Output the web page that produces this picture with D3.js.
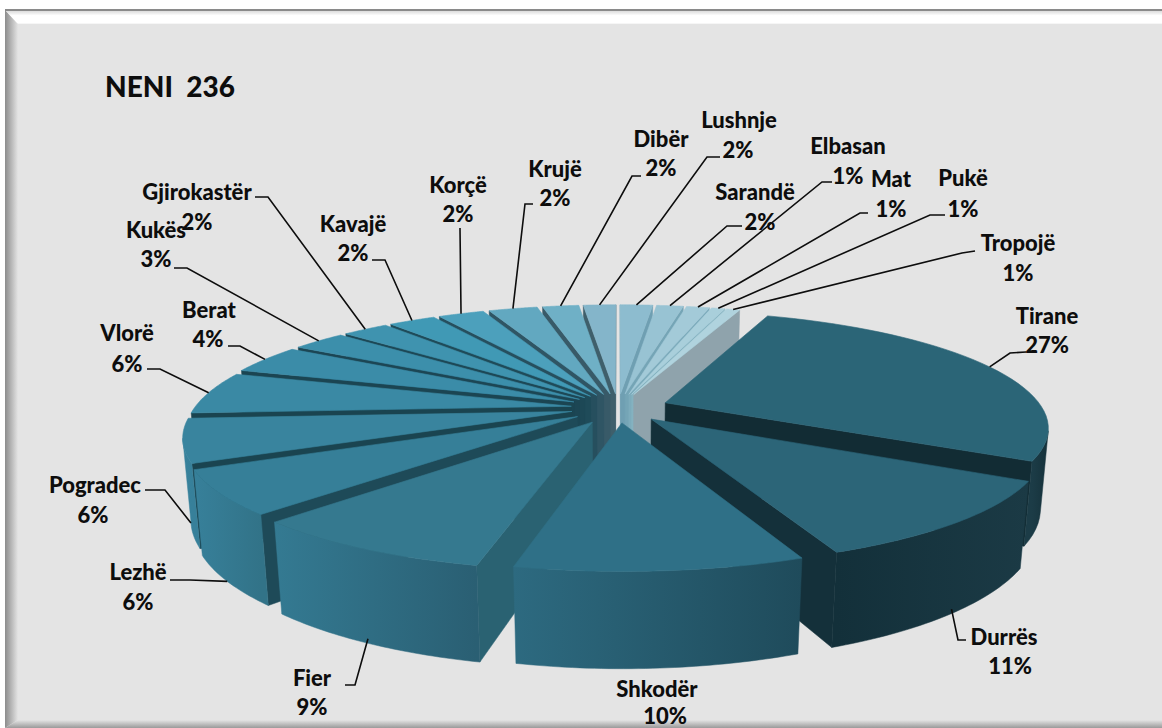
<!DOCTYPE html>
<html><head><meta charset="utf-8">
<style>html,body{margin:0;padding:0;background:#fff}svg{display:block}text{font-family:Lato,"Open Sans",sans-serif;font-weight:900;fill:#0d0d0d}</style>
<script src="https://cdn.jsdelivr.net/npm/d3@7"></script>
</head><body><svg id="c" width="1162" height="728"></svg>
<script>
const title = "NENI  236";
const categories = ["Sarandë","Elbasan","Mat","Pukë","Tropojë","Tirane","Durrës","Shkodër","Fier","Lezhë","Pogradec","Vlorë","Berat","Kukës","Gjirokastër","Kavajë","Korçë","Krujë","Dibër","Lushnje"];
const values = [1.7,1.4,1.2,0.7,0.7,27.5,10.95,9.8,8.55,6.0,6.0,5.9,4.0,2.8,2.4,2.45,2.4,2.55,1.9,1.7];
const percentLabels = ["2%","1%","1%","1%","1%","27%","11%","10%","9%","6%","6%","6%","4%","3%","2%","2%","2%","2%","2%","2%"];
const topColors = ["#8dbccf","#98c3d3","#a3cad8","#a9cfdb","#b0d3de","#2b6577","#2c6578","#2f7087","#35798f","#367f98","#39849e","#3a89a4","#3b8ca8","#3c8fab","#3f93af","#4099b5","#4ca0bc","#62a8c0","#6fb0c6","#84b5ca"];
const wallColors = ["#6f9fb2","#75a5b6","#7dacbc","#84b2c0","#8fa3ac","#122c34","#14303a","#1f4b5b","#2a6272","#1e4a58","#1a4450","#1a4450","#1b4552","#1c4654","#1d4856","#1f4b59","#264f5e","#2f5564","#385a68","#3f5f6b"];
const rimLeft = ["#6f9fb2","#75a5b6","#7dacbc","#84b2c0","#8fa3ac","#1c3c47","#13303a","#2d6a80","#347a92","#37809a","#38829c","#3a88a2","#3b8ca8","#3c8fab","#3f93af","#4099b5","#4ca0bc","#62a8c0","#6fb0c6","#84b5ca"];
const rimRight = ["#6f9fb2","#75a5b6","#7dacbc","#84b2c0","#8fa3ac","#15313a","#1b3a45","#1f4b5b","#2a5f73","#327388","#37809a","#3a88a2","#3b8ca8","#3c8fab","#3f93af","#4099b5","#4ca0bc","#62a8c0","#6fb0c6","#84b5ca"];

// Layout (screen placement of labels and leader elbows, not chart data)
const labelPos = [[755,192,760,222],[848,146,848,176],[891,179,891,209],[963,178,963,209],[1018,243,1018,273],[1047,316,1047,345],[1004,637,1010,666],[657,689,665,716],[312,678,312,707],[138,572,138,602],[95,485,93,515],[127,333,127,364],[209,310,208,339],[156,230,156,259],[197,192,197,222],[353,224,353,253],[458,185,458,214],[555,169,555,198],[661,139,661,168],[739,120,738,150]];
const leaderStub = [[[742,226],[727,226]],[[832,182],[822,182]],[[868,213],[860,213]],[[945,215],[930,215]],[[975,251],[962,253]],[[1026,352],[1010,353]],[[966,640],[958,640]],null,[[345,685],[355,685]],[[170,580],[190,580]],[[145,490],[165,490]],[[147,369],[160,369]],[[228,346],[240,346]],[[174,268],[187,268]],[[255,197],[268,197]],[[372,260],[385,260]],[[460,228],[460,229]],[[533,204],[525,204]],[[641,176],[632,176]],[[720,157],[707,157]]];
const leaderDepth = [0,0,0,0,0,0,0.95,0,0.95,1,1,0,0,0,0,0,0,0,0,0];
const explode = [.13,.13,.13,.13,.13,.135,.13,.13,.14,.13,.125,.125,.13,.13,.13,.13,.13,.13,.13,.13];

const cx=618, cy=408, R=377, kR=112, H=80, P=0.2, Q=0.018;
function proj(u,v,z){const w=1-P*v+Q*z;return [cx+R*u/w, cy+(kR*v+H*z)/w];}

const svg=d3.select("#c"), defs=svg.append("defs");
// Frame
const W=1162,Hh=728;
function grad(id,x1,y1,x2,y2,stops){const g=defs.append("linearGradient").attr("id",id).attr("gradientUnits","userSpaceOnUse").attr("x1",x1).attr("y1",y1).attr("x2",x2).attr("y2",y2);stops.forEach(s=>g.append("stop").attr("offset",s[0]).attr("stop-color",s[1]));}
grad("bl",5,0,18,0,[[0,"#8c8c8c"],[1,"#e4e4e4"]]);
grad("bt",0,11,0,24,[[0,"#dcdcdc"],[.35,"#ffffff"],[.9,"#ffffff"],[1,"#f0f0f0"]]);
grad("bb",0,720,0,728,[[0,"#e4e4e4"],[1,"#9a9a9a"]]);
svg.append("rect").attr("x",5).attr("y",9).attr("width",W-5).attr("height",Hh-9).attr("fill","#e4e4e4");
svg.append("polygon").attr("points","5,10 18,24 18,720 5,728").attr("fill","url(#bl)");
svg.append("polygon").attr("points","5,10 1162,10 1162,24 18,24").attr("fill","url(#bt)");
svg.append("polygon").attr("points","5,728 18,720 1162,720 1162,728").attr("fill","url(#bb)");
svg.append("rect").attr("x",5).attr("y",9).attr("width",W-5).attr("height",2).attr("fill","#8a8a8a");

const pie=d3.pie().sort(null).value((d,i)=>values[i]).startAngle(0).endAngle(2*Math.PI);
const arcs=pie(categories);
const line=d3.line();
const slices=arcs.map((a,i)=>{
  const mid=(a.startAngle+a.endAngle)/2, e=explode[i];
  const ox=e*Math.sin(mid), oy=-e*Math.cos(mid);
  const pt=(t,r,z)=>proj(ox+r*Math.sin(t),oy-r*Math.cos(t),z);
  const ts=d3.range(0,41).map(k=>a.startAngle+(a.endAngle-a.startAngle)*k/40);
  return {i,a,mid,pt,ts,oy};
});
const order=slices.slice().sort((p,q)=>(-Math.cos(p.mid))-(-Math.cos(q.mid)));
const g=svg.append("g");
order.forEach(s=>{
  const {i,a,pt,ts}=s;
  const wall=(t)=>[pt(t,0,0),pt(t,1,0),pt(t,1,1),pt(t,0,1)];
  // Only the faces that turn toward the viewer are drawn
  const startRim=pt(a.startAngle,1,0), endRim=pt(a.endAngle,1,0), apex=pt(0,0,0);
  if(startRim[0]<apex[0]) g.append("path").attr("d",line(wall(a.startAngle))+"Z").attr("fill",wallColors[i]).attr("stroke",wallColors[i]).attr("stroke-width",.5);
  if(endRim[0]>apex[0]) g.append("path").attr("d",line(wall(a.endAngle))+"Z").attr("fill",wallColors[i]).attr("stroke",wallColors[i]).attr("stroke-width",.5);
  const top=ts.map(t=>pt(t,1,0));
  const front=ts.filter((t,k)=>{
    const prev=pt(ts[Math.max(k-1,0)],1,0), next=pt(ts[Math.min(k+1,40)],1,0);
    return next[0]<prev[0];
  });
  if(front.length>1){
    const ft=front.map(t=>pt(t,1,0)), fb=front.map(t=>pt(t,1,1)).reverse();
    const xs=ft.map(p=>p[0]);
    grad("rim"+i,d3.min(xs),0,d3.max(xs),0,[[0,rimLeft[i]],[1,rimRight[i]]]);
    g.append("path").attr("d",line(ft.concat(fb))+"Z").attr("fill",`url(#rim${i})`).attr("stroke",`url(#rim${i})`).attr("stroke-width",.5);
  }
  g.append("path").attr("d",line([apex].concat(top))+"Z").attr("fill",topColors[i]).attr("stroke",topColors[i]).attr("stroke-width",.6).attr("stroke-linejoin","round");
});
// Leaders
slices.forEach(s=>{
  const st=leaderStub[s.i]; if(!st) return;
  const end=s.pt(s.mid,1,leaderDepth[s.i]);
  svg.append("path").attr("d",line(st.concat([end]))).attr("fill","none").attr("stroke","#0d0d0d").attr("stroke-width",1.6);
});
// Labels
const fs=22;
categories.forEach((c,i)=>{
  const p=labelPos[i];
  svg.append("text").attr("x",p[0]).attr("y",p[1]).attr("dy",".35em").attr("text-anchor","middle").attr("font-size",fs).text(c);
  svg.append("text").attr("x",p[2]).attr("y",p[3]).attr("dy",".35em").attr("text-anchor","middle").attr("font-size",fs).text(percentLabels[i]);
});
svg.append("text").attr("x",105).attr("y",97).attr("font-size",28).style("white-space","pre").text(title);
</script></body></html>
